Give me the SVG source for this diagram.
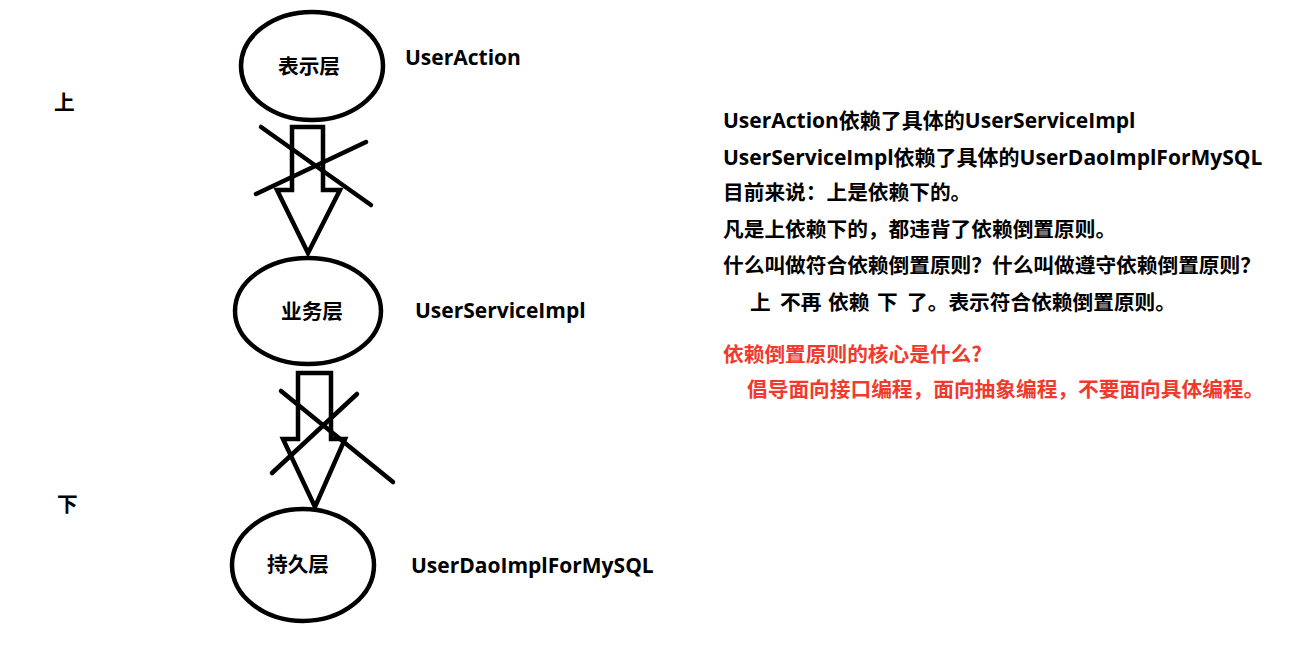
<svg xmlns="http://www.w3.org/2000/svg" width="1294" height="653" viewBox="0 0 1294 653">
<style>
.t{font-family:"Open Sans","Noto Sans CJK SC",sans-serif;font-weight:bold;font-size:21px;fill:#000}
.c{font-family:"Noto Sans CJK SC",sans-serif;font-weight:bold;font-size:20.7px;fill:#000}
.r{fill:#f03a2e}
.n{fill:none;stroke:#000;stroke-width:4.5}
.k{fill:none;stroke:#000;stroke-width:4.5;stroke-linejoin:miter;stroke-linecap:round}
</style>
<rect width="1294" height="653" fill="#fff"/>
<g id="node-present">
<ellipse class="n" cx="312" cy="66" rx="71" ry="54"/>
<text class="c" x="309" y="74" text-anchor="middle">表示层</text>
<text class="t" x="405" y="65">UserAction</text>
</g>
<g id="node-service">
<ellipse class="n" cx="308" cy="311" rx="73" ry="53"/>
<text class="c" x="312" y="319" text-anchor="middle">业务层</text>
<text class="t" x="415" y="318">UserServiceImpl</text>
</g>
<g id="node-persist">
<ellipse class="n" cx="303" cy="565" rx="71" ry="56"/>
<text class="c" x="298" y="572" text-anchor="middle">持久层</text>
<text class="t" x="411" y="573">UserDaoImplForMySQL</text>
</g>
<g id="connectors">
<polygon class="k" points="292,127 323,127 323,190 340,190 308,253 277,190 292,190"/>
<line class="k" x1="261" y1="127" x2="371" y2="205"/>
<line class="k" x1="256" y1="194" x2="366" y2="142"/>
<polygon class="k" points="298,373 331,373 331,439 345,439 315,507 283,439 298,439"/>
<line class="k" x1="281" y1="391" x2="393" y2="482"/>
<line class="k" x1="272" y1="473" x2="357" y2="394"/>
</g>
<g id="labels">
<text class="c" x="54" y="110">上</text>
<text class="c" x="57" y="512">下</text>
</g>
<g id="notes">
<text class="t" x="723" y="128">UserAction依赖了具体的UserServiceImpl</text>
<text class="t" x="723" y="165">UserServiceImpl依赖了具体的UserDaoImplForMySQL</text>
<text class="c" x="723" y="200">目前来说：上是依赖下的。</text>
<text class="c" x="723" y="237">凡是上依赖下的，都违背了依赖倒置原则。</text>
<text class="c" x="723" y="273">什么叫做符合依赖倒置原则？什么叫做遵守依赖倒置原则？</text>
<text class="c" y="310"><tspan x="750">上</tspan><tspan x="780">不再</tspan><tspan x="828">依赖</tspan><tspan x="877">下</tspan><tspan x="907">了。表示符合依赖倒置原则。</tspan></text>
<text class="c r" x="723" y="362">依赖倒置原则的核心是什么?</text>
<text class="c r" x="747" y="397">倡导面向接口编程，面向抽象编程，不要面向具体编程。</text>
</g>
</svg>
